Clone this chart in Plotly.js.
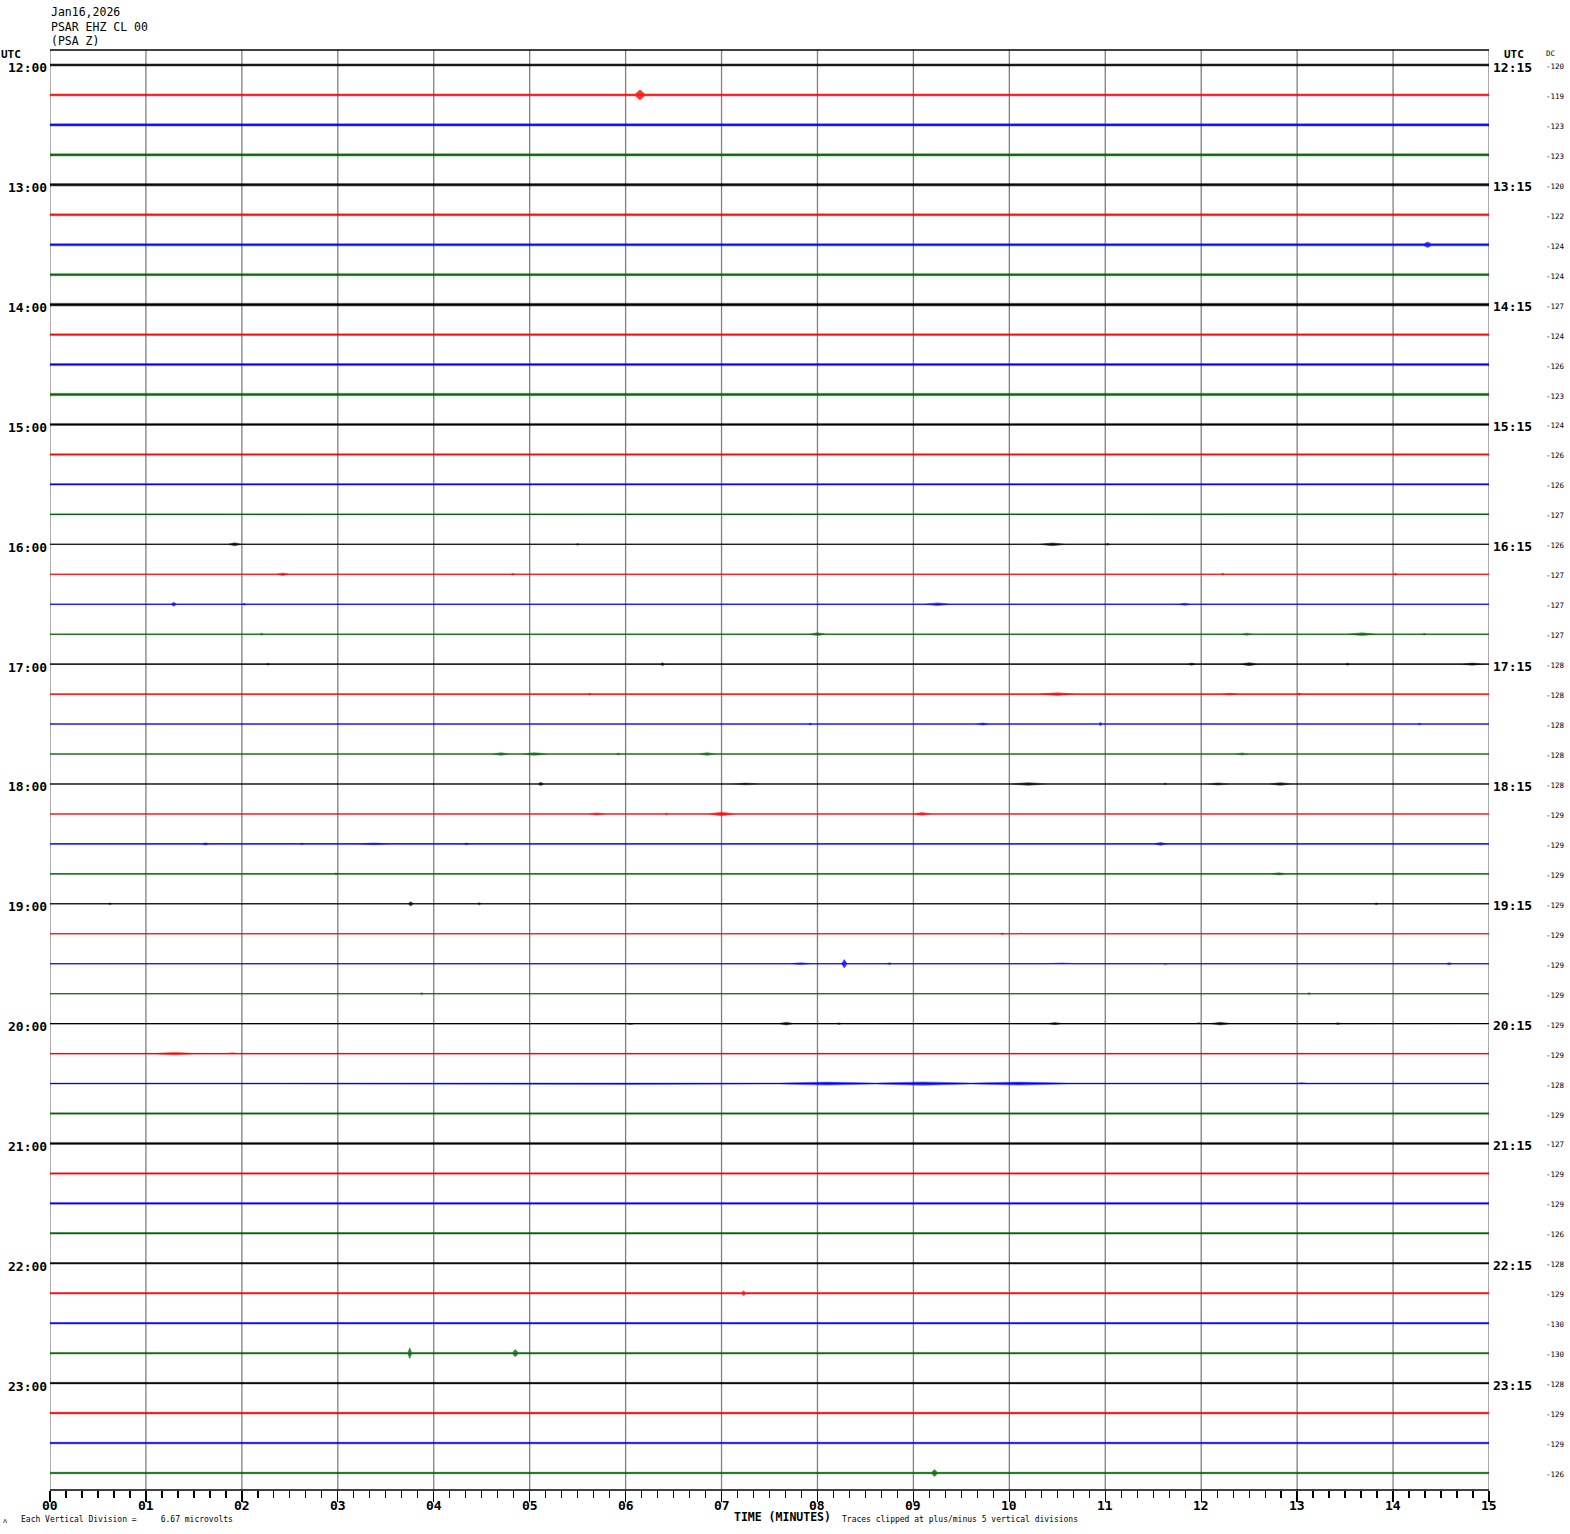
<!DOCTYPE html>
<html>
<head>
<meta charset="utf-8">
<script src="https://cdn.plot.ly/plotly-3.0.1.min.js"></script>
<style>html,body{margin:0;padding:0;background:#fff;}#chart{width:1570px;height:1534px;}</style>
</head>
<body>
<div id="chart"></div>
<script>
// ---------------- DATA ----------------
const startLabels = ["12:00","13:00","14:00","15:00","16:00","17:00","18:00","19:00","20:00","21:00","22:00","23:00"];
const endLabels   = ["12:15","13:15","14:15","15:15","16:15","17:15","18:15","19:15","20:15","21:15","22:15","23:15"];
const dcValues = [-120,-119,-123,-123,-120,-122,-124,-124,-127,-124,-126,-123,
                  -124,-126,-126,-127,-126,-127,-127,-127,-128,-128,-128,-128,
                  -128,-129,-129,-129,-129,-129,-129,-129,-129,-129,-128,-129,
                  -127,-129,-129,-126,-128,-129,-130,-130,-128,-129,-129,-126];
// background noise half-amplitude of each 15-minute line, in vertical divisions
const noiseDiv = [0.35,0.3,0.35,0.35,0.4,0.3,0.35,0.35,0.45,0.25,0.35,0.4,
                  0.35,0.25,0.2,0.1,0,0,0,0,0,0,0,0,
                  0,0,0,0,0,0,0,0,0.05,0.1,0.15,0.25,
                  0.35,0.25,0.25,0.25,0.25,0.25,0.25,0.25,0.25,0.25,0.25,0.25];
// events per line: [start minute, end minute, half-amplitude in divisions]
const events = {
  1:[[6.1,6.2,1.7]],
  6:[[14.32,14.4,0.9]],
  12:[[0.45,0.85,0.6],[1.8,2.0,0.6],[4.0,4.1,0.55]],
  16:[[1.85,2.0,0.5],[5.48,5.52,0.3],[10.3,10.6,0.45],[11.0,11.05,0.35]],
  17:[[2.35,2.5,0.4],[4.8,4.85,0.3],[12.2,12.25,0.3],[14.0,14.05,0.3]],
  18:[[1.26,1.32,0.7],[2.0,2.05,0.3],[9.1,9.4,0.45],[11.75,11.9,0.35]],
  19:[[2.18,2.23,0.35],[7.9,8.1,0.45],[12.4,12.55,0.35],[13.5,13.85,0.45],[14.3,14.35,0.3]],
  20:[[2.25,2.3,0.3],[6.36,6.41,0.5],[11.85,11.95,0.35],[12.4,12.6,0.5],[13.5,13.55,0.35],[14.7,14.95,0.35]],
  21:[[5.6,5.65,0.3],[10.3,10.7,0.45],[12.2,12.4,0.3],[12.99,13.05,0.35]],
  22:[[7.9,7.95,0.3],[9.65,9.8,0.35],[10.93,10.97,0.6],[14.25,14.3,0.3]],
  23:[[4.6,4.8,0.45],[4.9,5.2,0.45],[5.9,5.95,0.3],[6.75,6.95,0.45],[12.35,12.5,0.35]],
  24:[[5.08,5.15,0.55],[7.1,7.4,0.3],[10.0,10.4,0.45],[11.6,11.65,0.3],[12.05,12.3,0.35],[12.7,12.95,0.45]],
  25:[[5.6,5.8,0.35],[6.4,6.45,0.3],[6.85,7.15,0.6],[8.98,9.2,0.45]],
  26:[[1.58,1.66,0.35],[2.6,2.65,0.25],[3.2,3.55,0.3],[4.3,4.38,0.3],[11.5,11.65,0.45]],
  27:[[2.96,3.0,0.3],[12.72,12.9,0.35]],
  28:[[0.6,0.65,0.3],[3.73,3.79,0.7],[4.45,4.5,0.35],[13.8,13.85,0.3]],
  29:[[9.9,9.95,0.3],[10.1,10.15,0.25]],
  30:[[7.7,7.95,0.3],[8.25,8.31,1.4],[8.72,8.78,0.3],[10.4,10.7,0.25],[11.6,11.65,0.25],[14.55,14.62,0.35]],
  31:[[3.85,3.9,0.3],[13.1,13.15,0.3]],
  32:[[1.9,2.0,0.3],[4.6,4.65,0.3],[5.3,5.33,0.25],[6.0,6.1,0.3],[7.6,7.75,0.45],[8.2,8.25,0.25],[10.4,10.55,0.35],[11.95,12.0,0.3],[12.1,12.3,0.45],[13.4,13.45,0.3]],
  33:[[1.1,1.5,0.4],[1.85,1.95,0.3],[4.1,4.15,0.3],[12.4,12.5,0.3],[13.9,14.2,0.3],[14.5,14.55,0.3]],
  34:[[2.4,4.5,0.25],[4.5,7.6,0.3],[7.6,8.6,0.5],[8.6,9.6,0.55],[9.6,10.6,0.5],[13.0,13.1,0.3]],
  36:[[11.17,11.23,0.6]],
  41:[[7.21,7.25,0.8]],
  43:[[2.7,2.75,0.5],[3.73,3.77,1.8],[4.82,4.88,1.2]],
  45:[[3.4,3.5,0.45],[11.7,12.0,0.5]],
  46:[[4.8,4.95,0.45]],
  47:[[2.0,2.1,0.35],[9.19,9.25,1.2]]
};
const minuteTicks = ["00","01","02","03","04","05","06","07","08","09","10","11","12","13","14","15"];
const lineColors = ["#000000","#ff0000","#0000ff","#006400"];
const nLines = 48;
const rowPerDiv = 0.1;   // ±5 divisions = half a line spacing

// ---------------- BUILD ----------------
const W = 1570, H = 1534, L = 50, R = 1489, T = 50, B = 1490;
const px2x = p => (p - L) / (R - L);
const py2y = p => (B - p) / (B - T);

const traces = [];
for (let i = 0; i < nLines; i++) {
  const col = lineColors[i % 4];
  const n = noiseDiv[i] * rowPerDiv;
  const ev = (events[i] || []).slice().sort((a,b)=>a[0]-b[0]);
  const ux = [0], uy = [i - n];
  ev.forEach(e => {
    const a = Math.max(e[2]*rowPerDiv, n);
    ux.push(e[0], (e[0]+e[1])/2, e[1]);
    uy.push(i - n, i - a, i - n);
  });
  ux.push(15); uy.push(i - n);
  const lx = ux.slice().reverse();
  const ly = uy.slice().reverse().map(v => 2*i - v);
  traces.push({
    x: ux.concat(lx), y: uy.concat(ly), type: 'scatter', mode: 'lines',
    fill: 'toself', fillcolor: col, opacity: 0.8, line: {color: col, width: 0.5},
    hoverinfo: 'skip', showlegend: false
  });
  traces.push({
    x: [0, 15], y: [i, i], type: 'scatter', mode: 'lines',
    line: {color: col, width: 1.1}, hoverinfo: 'skip', showlegend: false
  });
}

const shapes = [];
for (let m = 0; m <= 15; m++) {
  shapes.push({type:'line', xref:'x', yref:'paper', x0:m, x1:m, y0:0, y1:1,
    line:{color:'#808080', width:1.3}, layer:'below'});
}
shapes.push({type:'line', xref:'paper', yref:'paper', x0:0, x1:1, y0:1, y1:1, line:{color:'#000', width:1.3}});
shapes.push({type:'line', xref:'paper', yref:'paper', x0:0, x1:1, y0:0, y1:0, line:{color:'#000', width:1.3}});

const mono = 'DejaVu Sans Mono, monospace';
const ann = [];
function txt(text, px, py, size, anchor, bold) {
  ann.push({text: text, xref: 'paper', yref: 'paper',
    x: px2x(px), y: py2y(py),
    xanchor: anchor, yanchor: 'middle', showarrow: false,
    font: {family: mono, size: size, color: '#000', weight: bold ? 'bold' : 'normal'}});
}
txt("Jan16,2026", 49, 12, 11.5, 'left');
txt("PSAR EHZ CL 00", 49, 27, 11.5, 'left');
txt("(PSA Z)", 49, 41, 11.5, 'left');
txt("UTC", -1, 55, 11, 'left', true);
txt("UTC", 1502, 55, 11, 'left', true);
txt("DC", 1544, 54, 7.5, 'left');
for (let k = 0; k < startLabels.length; k++) {
  const row = 4*k;
  ann.push({text: startLabels[k], xref:'paper', yref:'y', x: px2x(49), y: row + 0.1,
    xanchor:'right', yanchor:'middle', showarrow:false,
    font:{family:mono, size:13, color:'#000', weight:'bold'}});
  ann.push({text: endLabels[k], xref:'paper', yref:'y', x: px2x(1491), y: row + 0.07,
    xanchor:'left', yanchor:'middle', showarrow:false,
    font:{family:mono, size:13, color:'#000', weight:'bold'}});
}
for (let i = 0; i < nLines; i++) {
  ann.push({text: String(dcValues[i]), xref:'paper', yref:'y', x: px2x(1544), y: i + 0.05,
    xanchor:'left', yanchor:'middle', showarrow:false,
    font:{family:mono, size:7.5, color:'#000'}});
}
for (let m = 0; m <= 15; m++) {
  ann.push({text: minuteTicks[m], xref:'x', yref:'paper', x: m, y: py2y(1505),
    xanchor:'center', yanchor:'middle', showarrow:false,
    font:{family:mono, size:13, color:'#000', weight:'bold'}});
}
txt("TIME (MINUTES)", 732, 1517, 11.5, 'left', true);
txt("Traces clipped at plus/minus 5 vertical divisions", 840, 1519, 8, 'left');
txt("Each Vertical Division =     6.67 microvolts", 19, 1519, 8, 'left');
txt("ʌ", 1, 1521, 7, 'left');

const layout = {
  width: W, height: H,
  margin: {l: L, r: W - R, t: T, b: H - B, pad: 0},
  paper_bgcolor: '#fff', plot_bgcolor: '#fff',
  showlegend: false,
  xaxis: {range: [0, 15], showgrid: false, zeroline: false, showline: false,
    tickvals: minuteTicks.map((_, m) => m), showticklabels: false,
    ticks: 'outside', ticklen: 11, tickwidth: 1.3, tickcolor: '#000',
    minor: {dtick: 1/6, tick0: 0, ticks: 'outside', ticklen: 7, tickwidth: 1.3, tickcolor: '#000', showgrid: false}},
  yaxis: {range: [47.567, -0.5], showgrid: false, zeroline: false, showline: false,
    showticklabels: false, ticks: ''},
  shapes: shapes,
  annotations: ann
};
Plotly.newPlot('chart', traces, layout, {staticPlot: true, displayModeBar: false});
</script>
</body>
</html>
